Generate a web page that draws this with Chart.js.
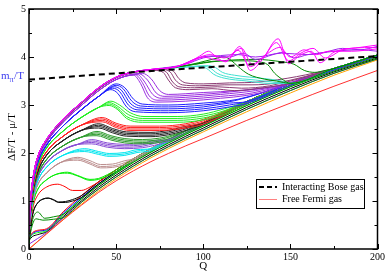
<!DOCTYPE html>
<html>
<head>
<meta charset="utf-8">
<script src="https://cdn.jsdelivr.net/npm/chart.js@4.4.1/dist/chart.umd.min.js"></script>
<style>
  html, body { margin: 0; padding: 0; background: #fff; }
  #c { display: block; }
</style>
</head>
<body>
<canvas id="c" width="387" height="273"></canvas>
<script>
// axis ticks
const xTicks = [0, 50, 100, 150, 200];
const yTicks = [0, 1, 2, 3, 4, 5];

// bundle tracks (lower merged curves), all on the same Q grid
const trackQ = [10, 20, 30, 40, 50, 60, 70, 80, 90, 100, 125, 150, 175, 200];
const track0 = [0.32, 0.63, 0.93, 1.21, 1.46, 1.69, 1.90, 2.09, 2.27, 2.44, 2.86, 3.25, 3.62, 3.94];
const track1 = [0.34, 0.66, 0.97, 1.25, 1.50, 1.73, 1.94, 2.13, 2.31, 2.48, 2.91, 3.30, 3.66, 3.96];
const track2 = [0.36, 0.69, 1.00, 1.29, 1.54, 1.77, 1.98, 2.17, 2.35, 2.52, 2.95, 3.34, 3.69, 3.98];
const track3 = [0.38, 0.73, 1.04, 1.33, 1.58, 1.81, 2.02, 2.21, 2.39, 2.56, 2.99, 3.38, 3.71, 4.00];
const track4 = [0.40, 0.76, 1.07, 1.36, 1.61, 1.84, 2.05, 2.24, 2.42, 2.59, 3.03, 3.41, 3.73, 4.02];
const track5 = [0.42, 0.79, 1.11, 1.40, 1.65, 1.88, 2.09, 2.28, 2.46, 2.63, 3.07, 3.45, 3.76, 4.04];

// reference curves
const boseQ = [0, 50, 100, 150, 200];
const boseY = [3.53, 3.66, 3.78, 3.90, 4.02];
const fermiQ = [0, 10, 20, 30, 40, 50, 60, 70, 80, 90, 100, 125, 150, 175, 200];
const fermiY = [0, 0.31, 0.62, 0.91, 1.18, 1.42, 1.63, 1.82, 1.99, 2.15, 2.30, 2.68, 3.04, 3.39, 3.72];

// rising parts (before the hump), one per band
const riseG4low = [[0,0.12],[1,0.42],[2.5,0.66],[5,0.77]];
const riseG4fork = [[0,0.1],[1,0.36],[2.5,0.56],[4,0.63]];
const riseBlack = [[0,0.2],[1,0.5],[2.5,0.78],[5,0.96],[8,1.04],[11,1.06]];
const riseRed = [[0,0.22],[1,0.58],[2.5,0.9],[5,1.12],[10,1.29],[16.5,1.35]];
const riseGreen = [[0,0.24],[1,0.64],[2.5,0.98],[5,1.24],[10,1.44],[16,1.56]];
const riseBrown = [[0,0.26],[1,0.68],[2.5,1.05],[5,1.34],[10,1.58],[18,1.8]];
const riseCyan = [[0,0.28],[1,0.72],[2.5,1.11],[5,1.42],[10,1.7],[20,1.96]];
const riseIndigo = [[0,0.3],[1,0.76],[2.5,1.16],[5,1.49],[10,1.79],[20,2.07],[28,2.18]];
const riseG4band = [[0,0.31],[1,0.79],[2.5,1.2],[5,1.54],[10,1.86],[20,2.16],[30,2.33]];
const riseBlackBand = [[0,0.32],[1,0.84],[2.5,1.26],[5,1.61],[10,1.95],[20,2.27],[30,2.47]];
const riseRedBand = [[0,0.33],[1,0.88],[2.5,1.31],[5,1.68],[10,2.02],[20,2.36],[30,2.58]];
const riseGreenBand = [[0,0.34],[1,0.92],[2.5,1.37],[5,1.74],[10,2.1],[20,2.47],[30,2.74],[40,2.95]];
const riseBlue = [[0,0.36],[1,0.96],[2.5,1.42],[5,1.8],[10,2.16],[20,2.58],[30,2.9],[40,3.18]];
const riseViolet = [[0,0.37],[1,0.99],[2.5,1.46],[5,1.86],[10,2.22],[20,2.66],[30,2.99],[40,3.3],[50,3.53]];
const riseMaroon = [[0,0.39],[1,1.03],[2.5,1.5],[5,1.9],[10,2.26],[20,2.7],[30,3.03],[40,3.34],[50,3.57],[60,3.68]];
const riseTop = [[0,0.4],[1,1.05],[2.5,1.52],[5,1.92],[10,2.28],[20,2.72],[30,3.05],[40,3.36],[50,3.58],[60,3.69]];

// humps, dips and plateaus
const g4lowA = [[9,0.64],[14,0.67]];
const g4forkA = [[8,0.6],[14,0.62]];
const blackA = [[14,1.03],[17,0.98],[21,0.99],[25,1.03]];
const blackB = [[14,1.02],[17,0.97],[21,0.97],[25,1.0]];
const redA = [[20,1.31],[25,1.22],[30,1.22],[35,1.29]];
const greenA = [[22,1.6],[28,1.53],[35,1.45],[40,1.47],[45,1.55]];
const greenB = [[22,1.58],[28,1.52],[35,1.43],[40,1.45],[45,1.52]];
const brownA = [[28,1.88],[35,1.8],[41,1.72],[48,1.73],[55,1.8]];
const brownB = [[28,1.91],[35,1.84],[41,1.76],[48,1.77],[55,1.84]];
const brownC = [[28,1.85],[35,1.77],[41,1.69],[48,1.7],[55,1.76]];
const cyanA = [[32,2.06],[40,2.0],[46,1.96],[55,1.98],[62,2.04]];
const cyanB = [[32,2.09],[40,2.03],[46,1.99],[55,2.01],[62,2.07]];
const cyanC = [[32,2.03],[40,1.97],[46,1.93],[55,1.95],[62,2.01]];
const indigoA = [[36,2.22],[45,2.15],[55,2.12],[65,2.14],[72,2.2]];
const indigoB = [[36,2.25],[45,2.18],[55,2.15],[65,2.17],[72,2.23]];
const indigoC = [[36,2.28],[45,2.21],[55,2.18],[65,2.2],[72,2.26]];
const indigoD = [[36,2.19],[45,2.12],[55,2.09],[65,2.11],[72,2.16]];
const g4bandA = [[39,2.39],[47,2.3],[55,2.24],[65,2.22],[75,2.25],[82,2.32]];
const g4bandB = [[39,2.42],[47,2.33],[55,2.27],[65,2.25],[75,2.28],[82,2.35]];
const g4bandC = [[39,2.36],[47,2.27],[55,2.21],[65,2.19],[75,2.22],[82,2.28]];
const g4bandD = [[39,2.45],[47,2.36],[55,2.3],[65,2.28],[75,2.31],[84,2.39]];
const blackBandA = [[40,2.55],[48,2.45],[56,2.38],[70,2.37],[80,2.41],[88,2.48]];
const blackBandB = [[40,2.58],[48,2.48],[56,2.41],[70,2.4],[80,2.44],[88,2.51]];
const blackBandC = [[40,2.52],[48,2.42],[56,2.35],[70,2.34],[80,2.38],[88,2.45]];
const blackBandD = [[40,2.61],[48,2.51],[56,2.44],[70,2.43],[80,2.47],[88,2.54]];
const redBandA = [[42,2.68],[50,2.56],[58,2.5],[75,2.5],[90,2.55],[100,2.64]];
const redBandB = [[42,2.71],[50,2.59],[58,2.53],[75,2.53],[90,2.58],[100,2.67]];
const redBandC = [[42,2.65],[50,2.53],[58,2.47],[75,2.47],[90,2.52],[100,2.6]];
const redBandD = [[42,2.74],[50,2.62],[58,2.56],[75,2.56],[90,2.61],[100,2.7]];
const greenBandA = [[46,3.02],[51,2.93],[56,2.76],[65,2.68],[85,2.68],[100,2.73],[112,2.85]];
const greenBandB = [[46,3.05],[51,2.97],[57,2.8],[65,2.72],[85,2.72],[100,2.77],[112,2.88]];
const greenBandC = [[46,2.99],[51,2.9],[56,2.72],[65,2.64],[85,2.64],[100,2.69],[112,2.81]];
const greenBandD = [[47,3.08],[52,3.0],[58,2.84],[66,2.76],[85,2.76],[100,2.81],[112,2.92]];
const blueA = [[48,3.35],[52,3.28],[57,3.0],[62,2.9],[80,2.88],[100,2.92],[115,3.0]];
const blueB = [[49,3.38],[53,3.31],[58,3.04],[63,2.94],[80,2.92],[100,2.96],[115,3.04]];
const blueC = [[50,3.41],[54,3.34],[59,3.08],[64,2.98],[80,2.96],[100,3.0],[118,3.09]];
const blueD = [[47,3.32],[51,3.24],[56,2.96],[61,2.86],[80,2.84],[100,2.88],[115,2.96]];
const blueE = [[50,3.44],[55,3.36],[60,3.12],[65,3.02],[80,3.0],[100,3.04],[120,3.12]];
const violetA = [[60,3.62],[64,3.45],[68,3.15],[73,3.06],[90,3.08],[110,3.14],[125,3.2],[140,3.32]];
const violetB = [[61,3.63],[65,3.47],[69,3.19],[74,3.1],[90,3.12],[110,3.18],[128,3.25]];
const violetC = [[62,3.64],[66,3.5],[71,3.22],[76,3.14],[90,3.16],[110,3.22],[130,3.3]];
const violetD = [[63,3.65],[68,3.52],[73,3.25],[78,3.18],[95,3.21],[115,3.27],[135,3.36]];
const violetE = [[65,3.66],[70,3.55],[75,3.3],[80,3.22],[100,3.26],[120,3.3],[140,3.38]];
const maroonA = [[72,3.72],[77,3.68],[80,3.52],[84,3.36],[92,3.32],[105,3.34],[118,3.3],[135,3.36]];
const maroonB = [[74,3.73],[79,3.68],[82,3.5],[86,3.38],[95,3.36],[108,3.38],[122,3.35],[138,3.4]];
const maroonC = [[76,3.74],[81,3.69],[84,3.52],[88,3.42],[98,3.4],[112,3.42],[128,3.42],[142,3.46]];
const maroonD = [[78,3.75],[83,3.7],[86,3.55],[90,3.46],[100,3.44],[115,3.46],[132,3.48]];
const turqA = [[70,3.73],[85,3.78],[98,3.8],[102,3.76],[106,3.64],[112,3.56],[125,3.5],[138,3.45]];
const turqB = [[70,3.73],[85,3.78],[100,3.81],[104,3.77],[108,3.66],[115,3.58],[130,3.52],[142,3.47]];
const turqC = [[70,3.73],[88,3.79],[103,3.82],[107,3.78],[111,3.68],[118,3.62],[135,3.55],[145,3.5]];
const g4topA = [[70,3.73],[90,3.82],[105,3.95],[112,4.0],[116,3.93],[120,3.8],[126,3.64],[135,3.54],[142,3.5]];
const g4topB = [[70,3.73],[90,3.82],[110,3.92],[125,3.92],[132,3.9],[137,3.84],[141,3.66],[146,3.52]];
const g4topC = [[70,3.73],[90,3.82],[110,3.92],[130,3.95],[145,3.9],[152,3.85],[158,3.72],[164,3.68],[170,3.72]];
const magentaA = [[70,3.74],[82,3.78],[92,3.9],[98,4.02],[103,4.12],[108,3.98],[113,3.9],[121,4.22],[127,3.72],[134,3.95],[143,4.38],[149,3.86],[155,4.02],[162,4.12],[167,3.88],[175,4.1],[185,4.18],[200,4.2]];
const magentaB = [[70,3.74],[82,3.78],[92,3.88],[100,4.0],[106,3.95],[113,3.92],[120,4.14],[127,3.8],[135,4.02],[142,4.3],[149,3.92],[156,4.08],[163,4.18],[170,3.98],[180,4.15],[190,4.2],[200,4.25]];
const magentaC = [[70,3.74],[85,3.8],[95,3.95],[104,4.05],[112,3.98],[122,4.18],[128,3.85],[136,4.05],[144,4.2],[150,4.0],[158,4.15],[165,4.05],[172,4.12],[185,4.12],[200,4.17]];
const purpleTopA = [[70,3.74],[85,3.8],[97,3.98],[105,4.02],[115,4.0],[123,4.08],[130,3.95],[140,4.05],[146,4.1],[152,3.98],[160,4.05],[170,4.1],[180,4.18],[190,4.15],[200,4.22]];
const purpleTopB = [[70,3.74],[90,3.85],[100,3.98],[110,4.03],[120,4.05],[130,4.0],[145,4.08],[160,4.05],[175,4.12],[190,4.15],[200,4.12]];

// heads of the curves that stay in the lower bundle
const headOrange = [[0,0],[5,0.16]];
const headBlueViolet = [[0,0.1],[5,0.22]];
const headBlack = [[0,0.18],[2,0.26],[5,0.3]];
const headGreen = [[0,0.2],[2,0.3],[5,0.34]];
const headBlue = [[0,0.22],[2,0.32],[5,0.37]];
const headRed = [[0,0.24],[2,0.34],[5,0.39]];

const serif = '"Liberation Serif", "DejaVu Serif", serif';

function tail(track, fromQ) {
  return trackQ.map((q, i) => [q, track[i]]).filter(p => p[0] >= fromQ);
}

var curves = [];
function addCurve(color, parts) {
  var pts = [].concat.apply([], parts);
  curves.push({
    data: pts.map(p => ({ x: p[0], y: p[1] })),
    borderColor: color,
    borderWidth: 1,
    pointRadius: 0,
    fill: false,
    cubicInterpolationMode: 'monotone'
  });
}

//bundle
addCurve('#ffa500', [headOrange, tail(track0, 10)]);
addCurve('#8a2be2', [headBlueViolet, tail(track1, 10)]);
addCurve('#000000', [headBlack, tail(track2, 10)]);
addCurve('#00ff00', [headGreen, tail(track3, 10)]);
addCurve('#0000ff', [headBlue, tail(track4, 10)]);
addCurve('#ff0000', [headRed, tail(track5, 10)]);

//humps, low to high
addCurve('#008b00', [riseG4fork, g4forkA, tail(track1, 20)]);
addCurve('#008b00', [riseG4low, g4lowA, tail(track3, 20)]);
addCurve('#000000', [riseBlack, blackB, tail(track4, 30)]);
addCurve('#000000', [riseBlack, blackA, tail(track5, 30)]);
addCurve('#ff0000', [riseRed, redA, tail(track5, 40)]);
addCurve('#00ee00', [riseGreen, greenB, tail(track4, 50)]);
addCurve('#00ee00', [riseGreen, greenA, tail(track5, 50)]);
addCurve('#bc8f8f', [riseBrown, brownC, tail(track4, 60)]);
addCurve('#bc8f8f', [riseBrown, brownA, tail(track5, 60)]);
addCurve('#bc8f8f', [riseBrown, brownB, tail(track5, 60)]);
addCurve('#00e5ee', [riseCyan, cyanC, tail(track4, 70)]);
addCurve('#00e5ee', [riseCyan, cyanA, tail(track5, 70)]);
addCurve('#00e5ee', [riseCyan, cyanB, tail(track5, 70)]);
addCurve('#8a4fd6', [riseIndigo, indigoD, tail(track4, 80)]);
addCurve('#8a4fd6', [riseIndigo, indigoA, tail(track5, 80)]);
addCurve('#8a4fd6', [riseIndigo, indigoB, tail(track5, 80)]);
addCurve('#8a4fd6', [riseIndigo, indigoC, tail(track5, 80)]);
addCurve('#2e9b2e', [riseG4band, g4bandC, tail(track4, 90)]);
addCurve('#2e9b2e', [riseG4band, g4bandA, tail(track5, 90)]);
addCurve('#2e9b2e', [riseG4band, g4bandB, tail(track5, 90)]);
addCurve('#2e9b2e', [riseG4band, g4bandD, tail(track5, 90)]);
addCurve('#222222', [riseBlackBand, blackBandC, tail(track4, 100)]);
addCurve('#222222', [riseBlackBand, blackBandA, tail(track5, 100)]);
addCurve('#222222', [riseBlackBand, blackBandB, tail(track5, 100)]);
addCurve('#222222', [riseBlackBand, blackBandD, tail(track5, 100)]);
addCurve('#ff2020', [riseRedBand, redBandC, tail(track4, 125)]);
addCurve('#ff2020', [riseRedBand, redBandA, tail(track5, 125)]);
addCurve('#ff2020', [riseRedBand, redBandB, tail(track5, 125)]);
addCurve('#ff2020', [riseRedBand, redBandD, tail(track5, 125)]);
addCurve('#22ee22', [riseGreenBand, greenBandC, tail(track4, 125)]);
addCurve('#22ee22', [riseGreenBand, greenBandA, tail(track5, 125)]);
addCurve('#22ee22', [riseGreenBand, greenBandB, tail(track5, 125)]);
addCurve('#22ee22', [riseGreenBand, greenBandD, tail(track5, 125)]);
addCurve('#2020ff', [riseBlue, blueD, tail(track4, 125)]);
addCurve('#2020ff', [riseBlue, blueA, tail(track5, 125)]);
addCurve('#2020ff', [riseBlue, blueB, tail(track5, 125)]);
addCurve('#2020ff', [riseBlue, blueC, tail(track5, 150)]);
addCurve('#2020ff', [riseBlue, blueE, tail(track5, 150)]);
addCurve('#9b30e0', [riseViolet, violetA, tail(track5, 150)]);
addCurve('#9b30e0', [riseViolet, violetB, tail(track5, 150)]);
addCurve('#9b30e0', [riseViolet, violetC, tail(track5, 150)]);
addCurve('#9b30e0', [riseViolet, violetD, tail(track5, 150)]);
addCurve('#9b30e0', [riseViolet, violetE, tail(track5, 175)]);
addCurve('#8c3c74', [riseMaroon, maroonA, tail(track5, 150)]);
addCurve('#8c3c74', [riseMaroon, maroonB, tail(track5, 175)]);
addCurve('#8c3c74', [riseMaroon, maroonC, tail(track5, 175)]);
addCurve('#8c3c74', [riseMaroon, maroonD, tail(track5, 175)]);
addCurve('#40e0d0', [riseTop, turqA, tail(track5, 150)]);
addCurve('#40e0d0', [riseTop, turqB, tail(track5, 150)]);
addCurve('#40e0d0', [riseTop, turqC, tail(track5, 150)]);
addCurve('#008b00', [riseTop, g4topA, tail(track5, 150)]);
addCurve('#008b00', [riseTop, g4topB, tail(track5, 150)]);
addCurve('#008b00', [riseTop, g4topC, tail(track5, 175)]);
addCurve('#a020f0', [riseTop, purpleTopA]);
addCurve('#a020f0', [riseTop, purpleTopB]);
addCurve('#ff00ff', [riseTop, magentaC]);
addCurve('#ff00ff', [riseTop, magentaB]);
addCurve('#ff00ff', [riseTop, magentaA]);

//Chart.js рисует dataset 0 последним, поэтому разворачиваем
curves.reverse();

curves.unshift({
  data: fermiQ.map((q, i) => ({ x: q, y: fermiY[i] })),
  borderColor: '#ff3030', borderWidth: 1, pointRadius: 0, fill: false,
  cubicInterpolationMode: 'monotone'
});
curves.unshift({
  data: boseQ.map((q, i) => ({ x: q, y: boseY[i] })),
  borderColor: '#000000', borderWidth: 2, borderDash: [6, 4], pointRadius: 0, fill: false,
  order: -1
});

// frame, inward ticks, titles, legend
const decor = {
  id: 'decor',
  afterDraw(chart) {
    const ctx = chart.ctx, a = chart.chartArea;
    const sx = chart.scales.x, sy = chart.scales.y;
    ctx.save();
    ctx.strokeStyle = '#000';
    ctx.lineWidth = 1;
    for (let v = 0; v <= 200; v += 25) {
      const px = Math.round(sx.getPixelForValue(v)) + 0.5;
      const len = v % 50 === 0 ? 5 : 3;
      ctx.beginPath();
      ctx.moveTo(px, a.bottom); ctx.lineTo(px, a.bottom - len);
      ctx.moveTo(px, a.top); ctx.lineTo(px, a.top + len);
      ctx.stroke();
    }
    for (let v = 0; v <= 5; v += 0.5) {
      const py = Math.round(sy.getPixelForValue(v)) + 0.5;
      const len = v % 1 === 0 ? 5 : 3;
      ctx.beginPath();
      ctx.moveTo(a.left, py); ctx.lineTo(a.left + len, py);
      ctx.moveTo(a.right, py); ctx.lineTo(a.right - len, py);
      ctx.stroke();
    }
    ctx.lineWidth = 1.5;
    ctx.strokeRect(a.left, a.top, a.right - a.left, a.bottom - a.top);

    // axis titles
    ctx.fillStyle = '#000';
    ctx.font = '11px ' + serif;
    ctx.textAlign = 'center';
    ctx.textBaseline = 'middle';
    ctx.fillText('Q', (a.left + a.right) / 2, 266);
    ctx.save();
    ctx.translate(12, 137);
    ctx.rotate(-Math.PI / 2);
    ctx.fillText('ΔF/T - μ/T', 0, 0);
    ctx.restore();

    // m_pi / T
    ctx.fillStyle = '#3c3cf0';
    ctx.textAlign = 'left';
    ctx.textBaseline = 'alphabetic';
    let x = 1;
    ctx.font = '11px ' + serif;
    ctx.fillText('m', x, 79);
    x += ctx.measureText('m').width;
    ctx.font = '8px ' + serif;
    ctx.fillText('π', x, 82);
    x += ctx.measureText('π').width + 0.5;
    ctx.font = '11px ' + serif;
    ctx.fillText('/T', x, 79);

    // legend
    ctx.fillStyle = '#fff';
    ctx.fillRect(256, 179, 108, 29);
    ctx.lineWidth = 1;
    ctx.strokeStyle = '#000';
    ctx.strokeRect(256.5, 179.5, 108, 29);
    ctx.lineWidth = 2;
    ctx.setLineDash([5, 3]);
    ctx.beginPath(); ctx.moveTo(259, 187); ctx.lineTo(277, 187); ctx.stroke();
    ctx.setLineDash([]);
    ctx.lineWidth = 1;
    ctx.strokeStyle = '#ff8080';
    ctx.beginPath(); ctx.moveTo(259, 199.5); ctx.lineTo(277, 199.5); ctx.stroke();
    ctx.fillStyle = '#000';
    ctx.font = '10px ' + serif;
    ctx.textBaseline = 'middle';
    ctx.fillText('Interacting Bose gas', 282, 187);
    ctx.fillText('Free Fermi gas', 282, 199.5);
    ctx.restore();
  }
};

new Chart(document.getElementById('c'), {
  type: 'line',
  data: { datasets: curves },
  options: {
    responsive: false,
    animation: false,
    devicePixelRatio: 1,
    layout: { padding: { top: 4, right: 8, left: 0, bottom: 0 } },
    plugins: { legend: { display: false }, tooltip: { enabled: false } },
    scales: {
      x: {
        type: 'linear', min: 0, max: 200,
        grid: { display: false, drawTicks: false }, border: { display: false },
        afterFit: s => { s.height = 24; },
        afterBuildTicks: s => { s.ticks = xTicks.map(v => ({ value: v })); },
        ticks: { padding: 2, color: '#000', font: { family: serif, size: 10 }, maxRotation: 0 }
      },
      y: {
        type: 'linear', min: 0, max: 5,
        grid: { display: false, drawTicks: false }, border: { display: false },
        afterFit: s => { s.width = 29; },
        afterBuildTicks: s => { s.ticks = yTicks.map(v => ({ value: v })); },
        ticks: { padding: 3, color: '#000', font: { family: serif, size: 10 } }
      }
    }
  },
  plugins: [decor]
});
</script>
</body>
</html>
